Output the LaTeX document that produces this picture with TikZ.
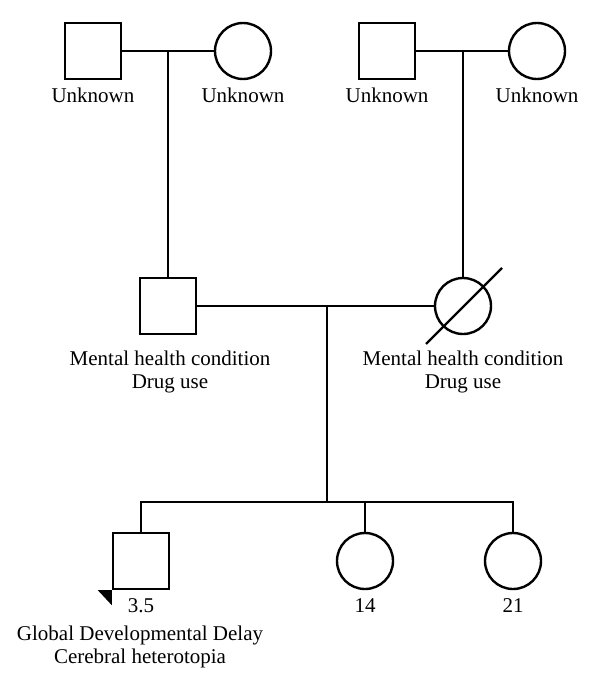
\documentclass[tikz,border=0pt]{standalone}
\usepackage{fontspec}
\setmainfont{Liberation Serif}

\begin{document}
\begin{tikzpicture}[x=0.5pt, y=-0.5pt, line width=1.2pt,
  male/.style={draw, rectangle, minimum size=28pt, inner sep=0pt},
  female/.style={draw, circle, minimum size=28pt, inner sep=0pt},
  lbl/.style={anchor=base, align=center, inner sep=0pt, font=\fontsize{10.5}{11.5}\selectfont}]

\useasboundingbox (0,0) rectangle (600,690);

% grandparents
\node [male] (pgf) at (93,51) {};
\node [female] (pgm) at (243,51) {};
\node [male] (mgf) at (387,51) {};
\node [female] (mgm) at (537,51) {};
\node [lbl] (pgfl) at (93,103) {Unknown};
\node [lbl] (pgml) at (243,103) {Unknown};
\node [lbl] (mgfl) at (387,103) {Unknown};
\node [lbl] (mgml) at (537,103) {Unknown};

% parents
\node [male] (dad) at (168,306) {};
\node [female] (mum) at (463,306) {};
\node [lbl] (dadl) at (170,388) {Mental health condition\\Drug use};
\node [lbl] (muml) at (463,388) {Mental health condition\\Drug use};

% children
\node [male] (son) at (141,561) {};
\node [female] (sis1) at (365,561) {};
\node [female] (sis2) at (513,561) {};
\node [lbl] (sonl) at (141,612) {3.5};
\node [lbl] (sis1l) at (365,612) {14};
\node [lbl] (sis2l) at (513,612) {21};
\node [lbl] (sonx) at (140,663) {Global Developmental Delay\\Cerebral heterotopia};

\draw (pgf) -- (pgm);
\draw (mgf) -- (mgm);
\draw (dad.north) -- (dad |- pgf);
\draw (mum.north) -- (mum |- mgf);
\draw (dad) -- (mum);

\coordinate (pm) at (327,306);
\coordinate (sib) at (327,502);
\draw (pm) -- (sib);
\draw (son.north) -- (son |- sib) -- (sis2 |- sib) -- (sis2.north);
\draw (sis1.north) -- (sis1 |- sib);

% deceased
\draw (mum.center) ++(-37,38) -- ++(76,-76);
% proband
\fill (son.south west) -- ++(-14,0) -- ++(14,15) -- cycle;

\end{tikzpicture}
\end{document}
